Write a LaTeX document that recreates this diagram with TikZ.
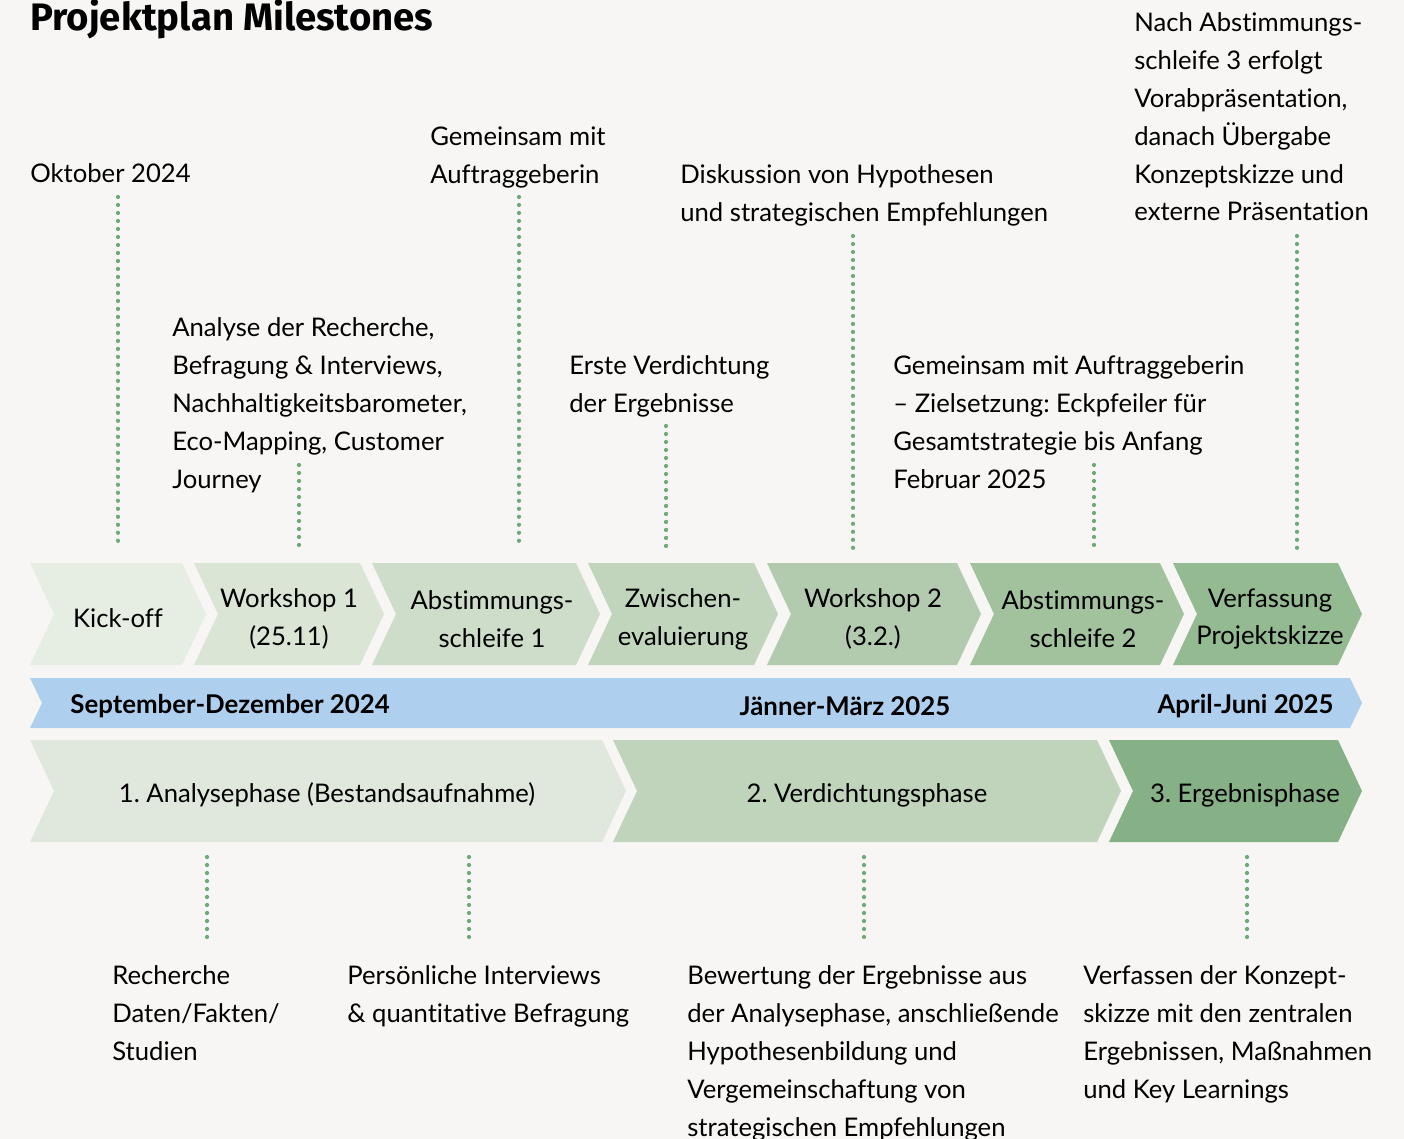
\documentclass[tikz,border=0pt]{standalone}
\usepackage{fontspec}
\setmainfont{Lato}[Ligatures=NoCommon]
\newfontfamily\titlefont{Fira Sans}
\usetikzlibrary{calc}
\frenchspacing

\definecolor{bg}{HTML}{F7F6F4}
\definecolor{dotgreen}{HTML}{6DAA78}
\definecolor{barblue}{HTML}{AECFEE}
\definecolor{msA}{HTML}{E6EDE3}
\definecolor{msB}{HTML}{DAE5D6}
\definecolor{msC}{HTML}{CDDDC9}
\definecolor{msD}{HTML}{C1D5BD}
\definecolor{msE}{HTML}{B2CBAE}
\definecolor{msF}{HTML}{A2C29E}
\definecolor{msG}{HTML}{94BA91}
\definecolor{phA}{HTML}{E0E8DD}
\definecolor{phB}{HTML}{C0D4BC}
\definecolor{phC}{HTML}{86B086}

% chevron: left, right (top corner), top, bottom, depth, colour
\newcommand{\chev}[6]{%
  \fill[#6] (#1,#3) -- (#2,#3) -- ({#2+#5},{(#3+#4)/2}) -- (#2,#4) -- (#1,#4)
    -- ({#1+#5},{(#3+#4)/2}) -- cycle;}

\begin{document}
\begin{tikzpicture}[x=0.02cm, y=-0.02cm,
  txt/.style={anchor=north west, inner sep=0pt, align=left,
    font=\fontsize{14.6}{21.6}\selectfont},
  lbl/.style={inner sep=0pt, align=center,
    font=\fontsize{14.6}{21.6}\selectfont},
  barlbl/.style={inner sep=0pt, font=\fontsize{14.7}{16}\selectfont\bfseries},
  dots/.style={dotgreen, line width=2.4pt, line cap=round,
    dash pattern=on 0pt off 4.55pt}]

% Background
\useasboundingbox (0,0) rectangle (1404,1139);
\fill[bg] (0,0) rectangle (1404,1139);

% Title
\node[anchor=base west, inner sep=0pt, font=\titlefont\fontsize{21.8}{26}\selectfont\bfseries]
  (title) at (30,31) {Projektplan Milestones};

% Milestones
\chev{30}{182}{563}{665}{24}{msA}
\chev{194}{360}{563}{665}{24}{msB}
\chev{372}{576}{563}{665}{24}{msC}
\chev{588}{754}{563}{665}{24}{msD}
\chev{767}{957}{563}{665}{24}{msE}
\chev{970}{1160}{563}{665}{24}{msF}
\chev{1173}{1338}{563}{665}{24}{msG}
\node[lbl] (kick) at (118,618) {Kick-off};
\node[lbl] (ws1) at (289,619) {Workshop 1\\(25.11)};
\node[lbl] (abs1) at (492,619) {Abstimmungs-\\schleife 1};
\node[lbl] (zwi) at (683,619) {Zwischen-\\evaluierung};
\node[lbl] (ws2) at (873,619) {Workshop 2\\(3.2.)};
\node[lbl] (abs2) at (1083,619) {Abstimmungs-\\schleife 2};
\node[lbl] (verf) at (1270,619) {Verfassung\\Projektskizze};

% Time bar
\chev{30}{1350}{678}{728}{12}{barblue}
\node[barlbl, anchor=west] (q1) at (70,706) {September-Dezember 2024};
\node[barlbl] (q2) at (845,706) {Jänner-März 2025};
\node[barlbl, anchor=east] (q3) at (1334,706) {April-Juni 2025};

% Phases
\chev{30}{602}{740}{842}{24}{phA}
\chev{613}{1097}{740}{842}{24}{phB}
\chev{1109}{1338}{740}{842}{24}{phC}
\node[lbl] (ph1) at (327,795) {1. Analysephase (Bestandsaufnahme)};
\node[lbl] (ph2) at (867,795) {2. Verdichtungsphase};
\node[lbl] (ph3) at (1245,795) {3. Ergebnisphase};

% Notes above
\node[txt] (okt) at (30,163) {Oktober 2024};
\node[txt] (ana) at (172,317) {Analyse der Recherche,\\Befragung \& Interviews,\\Nachhaltigkeitsbarometer,\\Eco-Mapping, Customer\\Journey};
\node[txt] (gem) at (430,126) {Gemeinsam mit\\Auftraggeberin};
\node[txt] (erst) at (569,355) {Erste Verdichtung\\der Ergebnisse};
\node[txt] (disk) at (680,164) {Diskussion von Hypothesen\\und strategischen Empfehlungen};
\node[txt] (ziel) at (893,355) {Gemeinsam mit Auftraggeberin\\– Zielsetzung: Eckpfeiler für\\Gesamtstrategie bis Anfang\\Februar 2025};
\node[txt] (nach) at (1134,12) {Nach Abstimmungs-\\schleife 3 erfolgt\\Vorabpräsentation,\\danach Übergabe\\Konzeptskizze und\\externe Präsentation};

\coordinate (t1) at (118,197);  \coordinate (b1) at (118,548);
\coordinate (t2) at (299,465);  \coordinate (b2) at (299,548);
\coordinate (t3) at (519,197);  \coordinate (b3) at (519,548);
\coordinate (t4) at (666,426);  \coordinate (b4) at (666,548);
\coordinate (t5) at (853,236);  \coordinate (b5) at (853,548);
\coordinate (t6) at (1094,465); \coordinate (b6) at (1094,548);
\coordinate (t7) at (1297,236); \coordinate (b7) at (1297,548);
\foreach \i in {1,...,7}
  \draw[dots] (t\i) -- (b\i);

% Notes below
\coordinate (u1) at (207,857); \coordinate (v1) at (207,942);
\coordinate (u2) at (469,857); \coordinate (v2) at (469,942);
\coordinate (u3) at (864,857); \coordinate (v3) at (864,942);
\coordinate (u4) at (1247,857); \coordinate (v4) at (1247,942);
\foreach \i in {1,...,4}
  \draw[dots] (u\i) -- (v\i);

\node[txt] (rech) at (112,965) {Recherche\\Daten/Fakten/\\Studien};
\node[txt] (pers) at (347,965) {Persönliche Interviews\\\& quantitative Befragung};
\node[txt] (bew) at (687,965) {Bewertung der Ergebnisse aus\\der Analysephase, anschließende\\Hypothesenbildung und\\Vergemeinschaftung von\\strategischen Empfehlungen};
\node[txt] (konz) at (1083,965) {Verfassen der Konzept-\\skizze mit den zentralen\\Ergebnissen, Maßnahmen\\und Key Learnings};

\end{tikzpicture}
\end{document}
